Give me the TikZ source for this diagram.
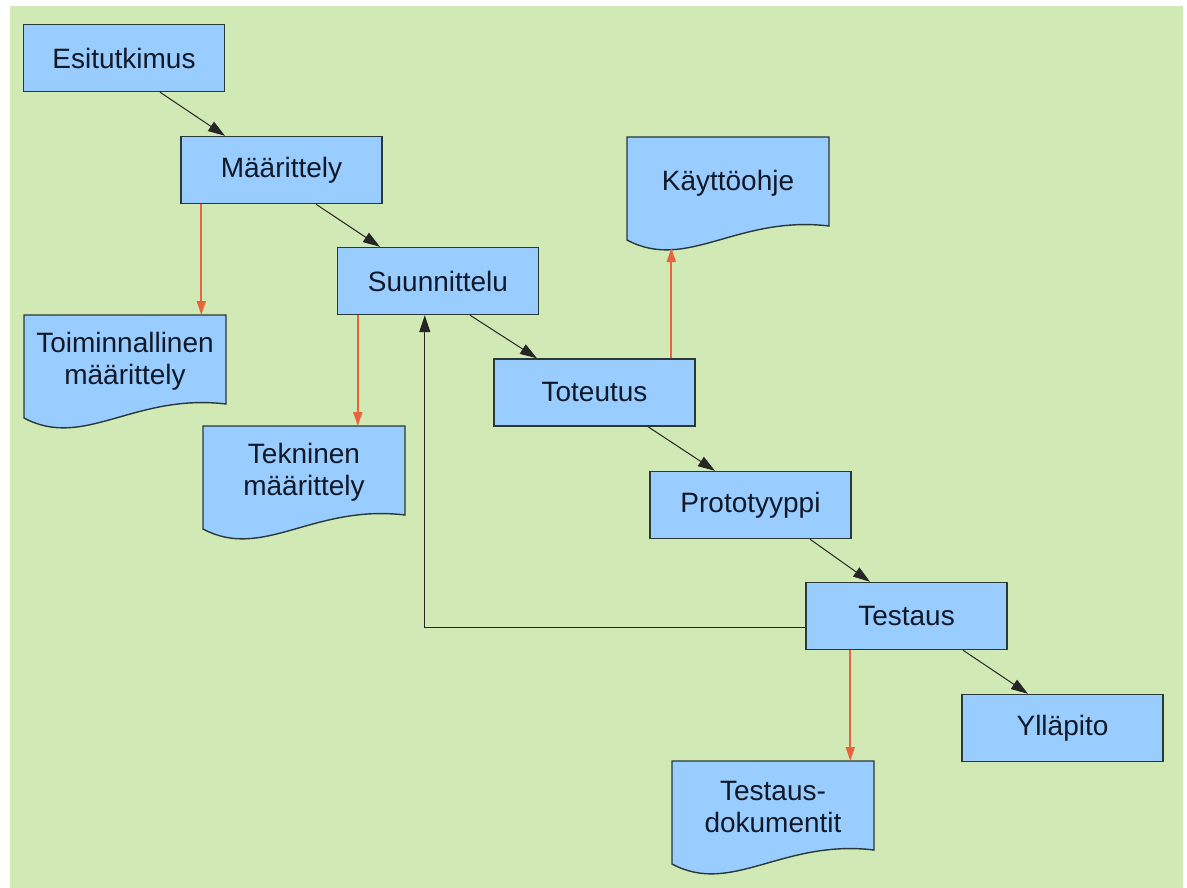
\documentclass[tikz,border=0pt]{standalone}
\usepackage{fontspec}
\setmainfont{Liberation Sans}
\usetikzlibrary{arrows.meta,calc}
\definecolor{bggreen}{HTML}{D1E9B4}
\definecolor{boxblue}{HTML}{99CCFF}
\definecolor{edgegray}{HTML}{2B3838}
\definecolor{docred}{HTML}{E8643C}
\definecolor{inkblue}{HTML}{111827}

% document symbol with a wavy lower edge: name, left, top, label
\newcommand\wavedoc[4]{%
  \path[docshape] (#2,#3) -- ({#2+202},#3) -- ({#2+202},{#3+89})
    .. controls ({#2+110},{#3+78}) and ({#2+60},{#3+135}) .. (#2,{#3+103}) -- cycle;
  \node[doclabel] (#1) at ({#2+101},{#3+46}) {#4};
}

\begin{document}
\begin{tikzpicture}[x=1pt,y=-1pt,
  stage/.style={draw=edgegray, fill=boxblue, line width=1.4pt,
    minimum width=201pt, minimum height=67pt, inner sep=0pt,
    text=inkblue, font=\fontsize{28}{32}\selectfont},
  doclabel/.style={minimum width=202pt, minimum height=92pt, inner sep=0pt,
    outer sep=0pt, align=center, text=inkblue, font=\fontsize{28}{32}\selectfont},
  docshape/.style={draw=edgegray, fill=boxblue, line width=1.4pt},
  flow/.style={draw=black!85, line width=1pt, -{Triangle[length=17pt,width=11pt]}},
  output/.style={draw=docred, line width=1.7pt, -{Triangle[length=14pt,width=9pt]}}
]
\useasboundingbox (0,0) rectangle (1187,888);
\fill[white] (0,0) rectangle (1187,888);
\fill[bggreen] (10,6) rectangle (1183,888);

% project phases
\node[stage] (esi)   at (124,58)     {Esitutkimus};
\node[stage] (maar)  at (281.5,170)  {Määrittely};
\node[stage] (suun)  at (438,281)    {Suunnittelu};
\node[stage] (tot)   at (594.5,392.5){Toteutus};
\node[stage] (proto) at (750.5,505)  {Prototyyppi};
\node[stage] (test)  at (906.5,616)  {Testaus};
\node[stage] (yll)   at (1062.5,728) {Ylläpito};

% produced documents
\wavedoc{toim}{24}{315}{Toiminnallinen\\määrittely}
\wavedoc{tek}{203}{426}{Tekninen\\määrittely}
\wavedoc{kay}{627}{137}{Käyttöohje}
\wavedoc{tdok}{672}{761}{Testaus-\\dokumentit}
\coordinate (kaydip) at ($(kay.north west)+(45,111)$);

% phase sequence
\draw[flow] ($(esi.south)+(36,0)$)     -- ($(maar.north)+(-56.5,0)$);
\draw[flow] ($(maar.south)+(34.5,0)$)  -- ($(suun.north)+(-58,0)$);
\draw[flow] ($(suun.south)+(32,0)$)    -- ($(tot.north)+(-57.5,0)$);
\draw[flow] ($(tot.south)+(53.5,0)$)   -- ($(proto.north)+(-35.5,0)$);
\draw[flow] ($(proto.south)+(59.5,0)$) -- ($(test.north)+(-36.5,0)$);
\draw[flow] ($(test.south)+(56.5,0)$)  -- ($(yll.north)+(-34.5,0)$);

% feedback from testing to design
\draw[flow] ($(test.west)+(0,11)$) -| ($(suun.south west)+(88,0)$);

% document outputs, all vertical
\draw[output] ($(maar.south west)+(21,0)$) coordinate (o1) -- (o1 |- toim.north);
\draw[output] ($(suun.south west)+(21,0)$) coordinate (o2) -- (o2 |- tek.north);
\draw[output] ($(tot.north west)+(178,0)$) coordinate (o3) -- (o3 |- kaydip);
\draw[output] ($(test.south west)+(45,0)$) coordinate (o4) -- (o4 |- tdok.north);
\end{tikzpicture}
\end{document}
